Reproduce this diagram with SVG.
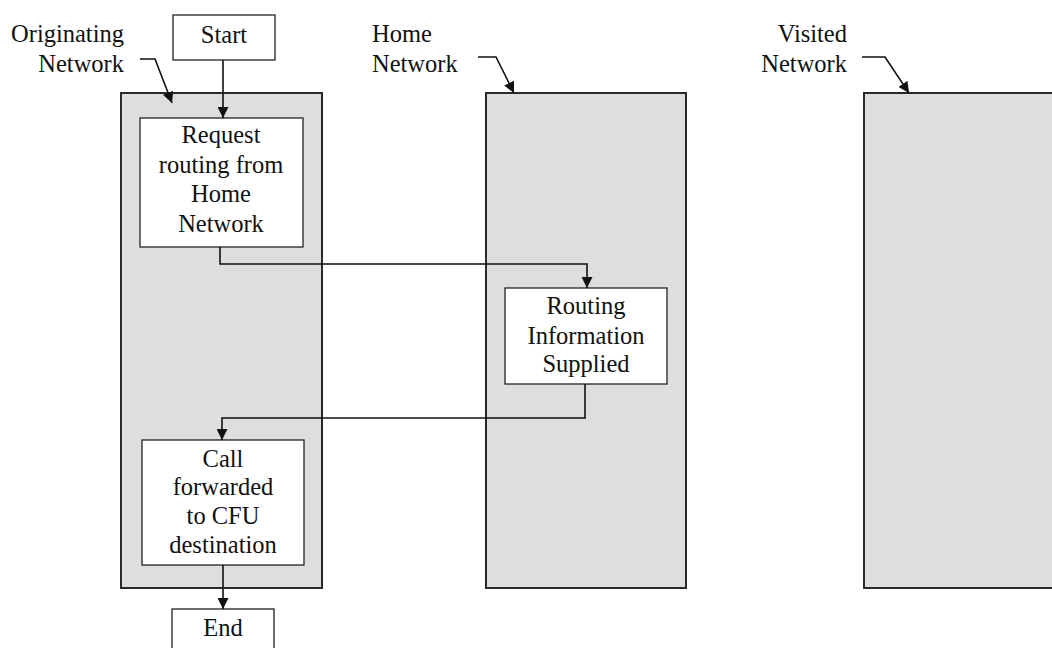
<svg xmlns="http://www.w3.org/2000/svg" width="1052" height="648" viewBox="0 0 1052 648">
<style>
.lane{fill:#dedede;stroke:#2a2a2a;stroke-width:2}
.box{fill:#ffffff;stroke:#222;stroke-width:1.3}
.t{font-family:"Liberation Serif","Times New Roman",serif;font-size:24.5px;fill:#111;text-anchor:middle}
.lbl{font-family:"Liberation Serif","Times New Roman",serif;font-size:24.5px;fill:#111}
.c{fill:none;stroke:#111;stroke-width:1.6}
</style>
<defs>
<marker id="ah" viewBox="0 0 10 10" refX="10" refY="5" markerWidth="11" markerHeight="11" markerUnits="userSpaceOnUse" orient="auto">
<path d="M0,0 L10,5 L0,10 Z" fill="#111"/>
</marker>
</defs>
<g id="lane-originating">
<rect class="lane" x="121" y="93" width="201" height="495"/>
<text class="lbl" text-anchor="end" x="124" y="42">Originating</text>
<text class="lbl" text-anchor="end" x="124" y="72">Network</text>
</g>
<g id="lane-home">
<rect class="lane" x="486" y="93" width="200" height="495"/>
<text class="lbl" x="372" y="42">Home</text>
<text class="lbl" x="372" y="72">Network</text>
</g>
<g id="lane-visited">
<rect class="lane" x="864" y="93" width="200" height="495"/>
<text class="lbl" text-anchor="end" x="847" y="42">Visited</text>
<text class="lbl" text-anchor="end" x="847" y="72">Network</text>
</g>
<g id="start">
<rect class="box" x="173" y="15" width="102" height="45"/>
<text class="t" x="224" y="43">Start</text>
</g>
<g id="request">
<rect class="box" x="140" y="118" width="163" height="129"/>
<text class="t" x="221" y="143">Request</text>
<text class="t" x="221" y="173">routing from</text>
<text class="t" x="221" y="202">Home</text>
<text class="t" x="221" y="232">Network</text>
</g>
<g id="routing">
<rect class="box" x="505" y="288" width="162" height="96"/>
<text class="t" x="586" y="314">Routing</text>
<text class="t" x="586" y="344">Information</text>
<text class="t" x="586" y="372">Supplied</text>
</g>
<g id="call">
<rect class="box" x="142" y="440" width="162" height="125"/>
<text class="t" x="223" y="467">Call</text>
<text class="t" x="223" y="495">forwarded</text>
<text class="t" x="223" y="524">to CFU</text>
<text class="t" x="223" y="553">destination</text>
</g>
<g id="end">
<rect class="box" x="172" y="609" width="102" height="50"/>
<text class="t" x="223" y="636">End</text>
</g>
<g id="connectors">
<path class="c" d="M223,60 V118" marker-end="url(#ah)"/>
<path class="c" d="M220,247 V264 H587 V288" marker-end="url(#ah)"/>
<path class="c" d="M585,384 V418 H222 V440" marker-end="url(#ah)"/>
<path class="c" d="M223,565 V609" marker-end="url(#ah)"/>
<path class="c" d="M140,59 H155 L172,103" marker-end="url(#ah)"/>
<path class="c" d="M478,57 H496 L514,93" marker-end="url(#ah)"/>
<path class="c" d="M862,57 H885 L909,93" marker-end="url(#ah)"/>
</g>
</svg>
